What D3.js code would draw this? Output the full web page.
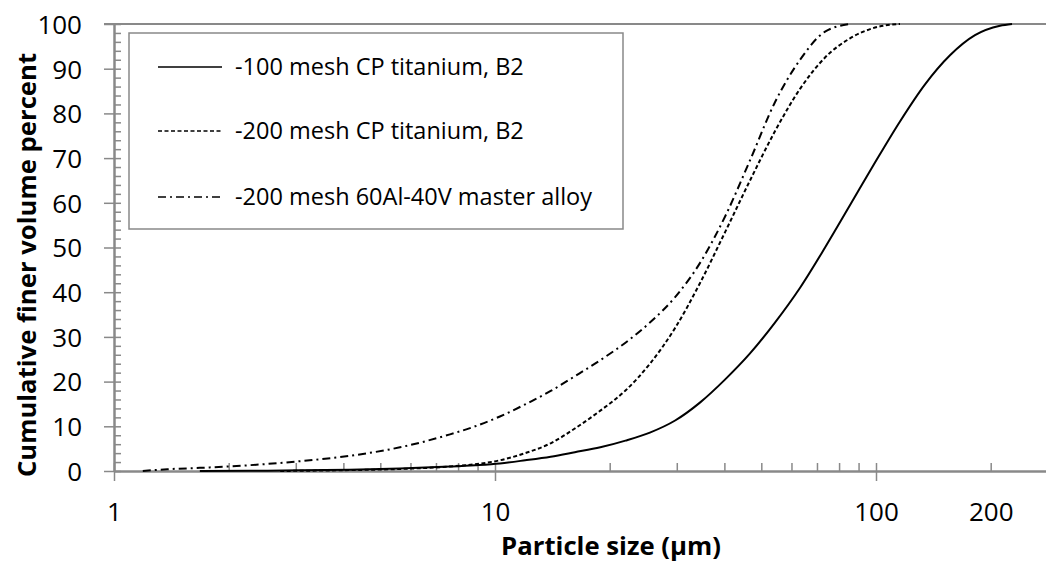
<!DOCTYPE html>
<html>
<head>
<meta charset="utf-8">
<script src="https://cdn.jsdelivr.net/npm/d3@7"></script>
<style>
  html, body { margin: 0; padding: 0; background: #fff; }
  svg { display: block; }
  text { font-family: "Open Sans", "Noto Sans", sans-serif; fill: #000; }
</style>
</head>
<body>
<svg id="chart" width="1046" height="563"></svg>
<script>
// ---------- DATA ----------
const seriesNames = ["-100 mesh CP titanium, B2", "-200 mesh CP titanium, B2", "-200 mesh 60Al-40V master alloy"];

// particle size (µm) and cumulative finer volume percent
const sizes100 = [1.68, 2.27, 3.08, 4.16, 5.63, 7.62, 8.87, 10.3, 12.0, 14.0, 16.2, 18.9, 22.0, 25.5, 29.7, 34.5, 40.2, 46.7, 54.3, 63.2, 73.5, 85.5, 99.4, 115.6, 134.5, 156.4, 181.9, 211.6, 227.5];
const values100 = [0, 0.05, 0.15, 0.3, 0.55, 1.0, 1.3, 1.7, 2.4, 3.2, 4.2, 5.3, 6.8, 8.6, 11.3, 15.3, 20.5, 26.3, 33.2, 41.0, 50.0, 59.5, 69.0, 78.2, 86.5, 93.0, 97.5, 99.6, 100];

const sizes200 = [2.73, 4.16, 5.63, 7.62, 8.87, 10.3, 12.0, 14.0, 16.2, 18.9, 22.0, 25.5, 29.7, 34.5, 40.2, 46.7, 54.3, 63.2, 73.5, 85.5, 99.4, 115.6];
const values200 = [0, 0.2, 0.45, 1.0, 1.5, 2.4, 4.0, 6.2, 9.5, 13.5, 18.0, 24.0, 32.0, 42.0, 53.5, 65.0, 76.0, 85.5, 92.5, 96.8, 99.2, 100];

const sizesAlloy = [1.19, 1.38, 1.68, 2.27, 3.08, 4.16, 5.63, 7.62, 8.87, 10.3, 12.0, 14.0, 16.2, 18.9, 22.0, 25.5, 29.7, 34.5, 40.2, 46.7, 54.3, 63.2, 73.5, 85.5];
const valuesAlloy = [0, 0.4, 0.7, 1.3, 2.2, 3.4, 5.3, 8.2, 10.0, 12.2, 14.9, 17.9, 21.2, 24.8, 28.7, 33.2, 38.9, 46.5, 57.0, 69.5, 82.5, 92.0, 98.3, 100];

const xTickLabels = [1, 10, 100, 200];
const xMajorTicks = [1, 10, 100];
const xMinorTicks = [2,3,4,5,6,7,8,9,20,30,40,50,60,70,80,90,200];
const yTickLabels = [0,10,20,30,40,50,60,70,80,90,100];
const yMinorTicks = d3.range(0, 101, 2);

const xTitle = "Particle size (µm)";
const yTitle = "Cumulative finer volume percent";

// ---------- LAYOUT ----------
const svg = d3.select("#chart");
const axisColor = "#898989";
const plotLeft = 114, plotTop = 24, plotBottom = 471;

const x = d3.scaleLog().domain([1, 280]).range([plotLeft, plotLeft + 381 * Math.log10(280)]);
const y = d3.scaleLinear().domain([0, 100]).range([plotBottom, plotTop]);

// top frame line
svg.append("line").attr("x1", 104).attr("x2", 1046).attr("y1", y(100)).attr("y2", y(100))
  .attr("stroke", axisColor).attr("stroke-width", 2);

// Y axis: outer major ticks + labels
const yAxisG = svg.append("g").attr("transform", `translate(${plotLeft},0)`)
  .call(d3.axisLeft(y).tickValues(yTickLabels).tickSize(10).tickPadding(22).tickSizeOuter(0));
// Y axis: inner minor ticks
const yInnerG = svg.append("g").attr("transform", `translate(${plotLeft},0)`)
  .call(d3.axisRight(y).tickValues(yMinorTicks).tickSize(7).tickFormat("").tickSizeOuter(0));

// X axis labels
const xLabG = svg.append("g").attr("transform", `translate(0,${plotBottom})`)
  .call(d3.axisBottom(x).tickValues(xTickLabels).tickFormat(d3.format("d")).tickSize(0).tickSizeOuter(0));
// X axis major downward ticks
const xDownG = svg.append("g").attr("transform", `translate(0,${plotBottom})`)
  .call(d3.axisBottom(x).tickValues(xMajorTicks).tickSize(10).tickFormat("").tickSizeOuter(0));
// X axis upward ticks
const xUpG = svg.append("g").attr("transform", `translate(0,${plotBottom})`)
  .call(d3.axisTop(x).tickValues(xMajorTicks.concat(xMinorTicks)).tickSize(8).tickFormat("").tickSizeOuter(0));

[yAxisG, yInnerG, xLabG, xDownG, xUpG].forEach(g => {
  g.selectAll(".domain").attr("stroke", axisColor).attr("stroke-width", 2);
  g.selectAll(".tick line").attr("stroke", axisColor).attr("stroke-width", 1.5);
});
xLabG.select(".domain").remove();

yAxisG.selectAll(".tick text").attr("font-family", "Open Sans").attr("font-size", 26)
  .attr("fill", "#000").attr("dy", "0.36em");
xLabG.selectAll(".tick text").attr("font-family", "Open Sans").attr("font-size", 26)
  .attr("fill", "#000").attr("y", 41).attr("dy", "0.36em");

// ---------- LINES ----------
const line = d3.line().x(d => x(d[0])).y(d => y(d[1])).curve(d3.curveMonotoneX);
const series = [
  { name: seriesNames[0], xs: sizes100, vs: values100, dash: null },
  { name: seriesNames[1], xs: sizes200, vs: values200, dash: "4,2.5" },
  { name: seriesNames[2], xs: sizesAlloy, vs: valuesAlloy, dash: "8,4,2,4" }
];
series.forEach(s => {
  svg.append("path")
    .datum(s.xs.map((v, i) => [v, s.vs[i]]))
    .attr("d", line)
    .attr("fill", "none")
    .attr("stroke", "#000")
    .attr("stroke-width", 2)
    .attr("stroke-dasharray", s.dash);
});

// ---------- LEGEND ----------
svg.append("rect").attr("x", 129).attr("y", 33).attr("width", 494).attr("height", 196)
  .attr("fill", "#fff").attr("stroke", axisColor).attr("stroke-width", 1.5);
const rowY = [67, 131, 197];
series.forEach((s, i) => {
  svg.append("line").attr("x1", 158).attr("x2", 222).attr("y1", rowY[i]).attr("y2", rowY[i])
    .attr("stroke", "#000").attr("stroke-width", 1.4).attr("stroke-dasharray", s.dash);
  svg.append("text").attr("x", 235).attr("y", rowY[i]).attr("dy", "0.35em")
    .attr("font-size", 23.5).text(s.name);
});

// ---------- AXIS TITLES ----------
svg.append("text").attr("x", 611).attr("y", 546).attr("dy", "0.35em")
  .attr("text-anchor", "middle").attr("font-weight", "bold").attr("font-size", 25.7).text(xTitle);
svg.append("text").attr("transform", "translate(27,265) rotate(-90)").attr("dy", "0.35em")
  .attr("text-anchor", "middle").attr("font-weight", "bold").attr("font-size", 25.7).text(yTitle);
</script>
</body>
</html>
